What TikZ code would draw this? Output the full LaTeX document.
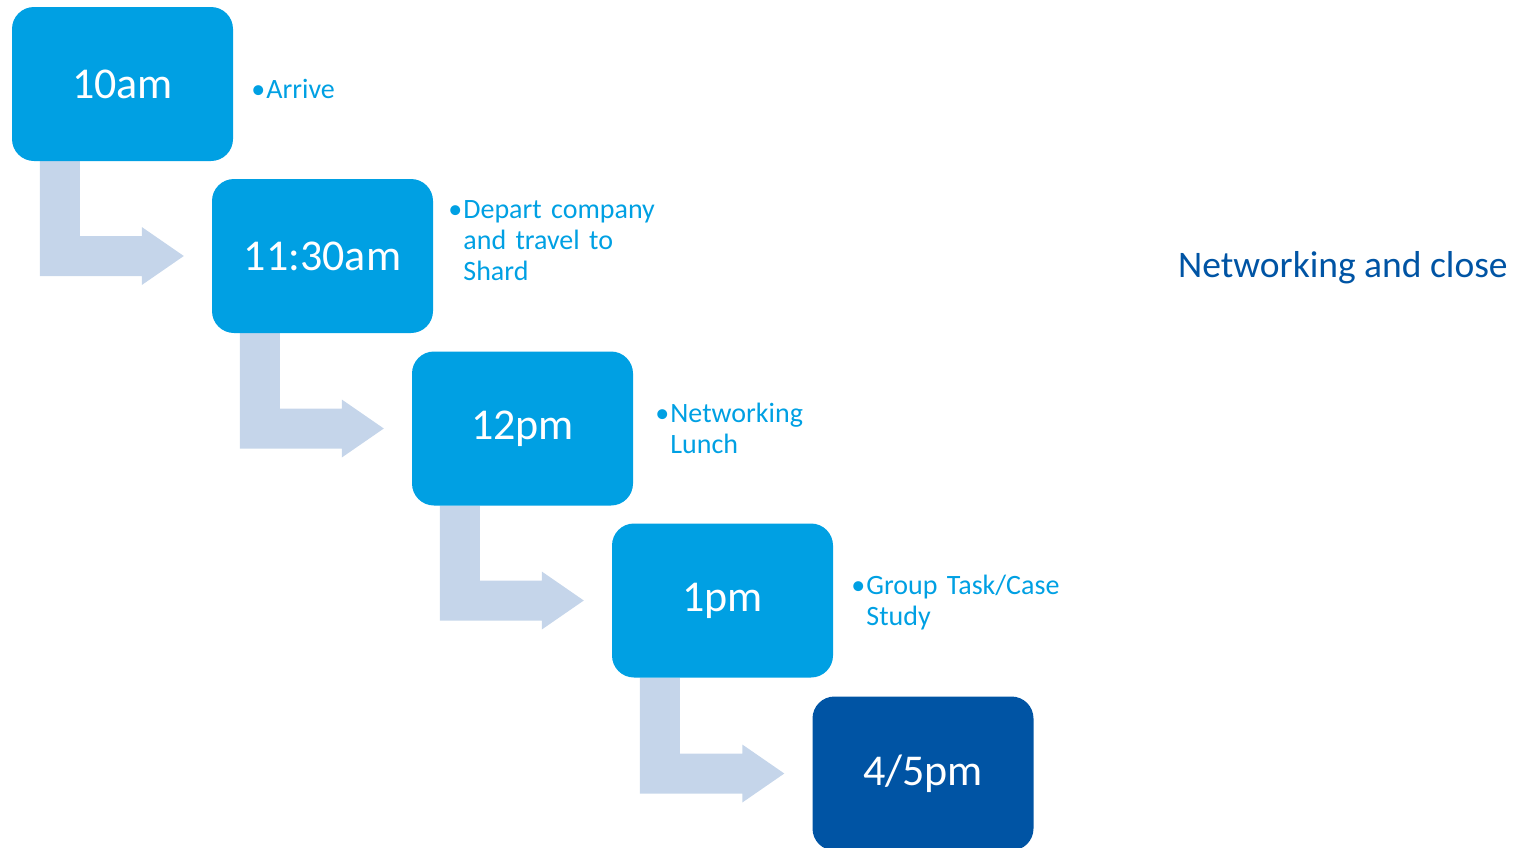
\documentclass[tikz,border=0pt]{standalone}
\usepackage{fontspec}
\setmainfont{Carlito}
\usetikzlibrary{calc, backgrounds}
\definecolor{sky}{RGB}{0, 160, 227}
\definecolor{navy}{RGB}{0, 84, 164}
\definecolor{pale}{RGB}{197, 213, 234}

\tikzset{
  slot/.style={fill=sky, text=white, rounded corners=22, minimum width=221,
               minimum height=154, inner sep=0, font=\fontsize{44}{50}\selectfont},
  note/.style={text=sky, anchor=base west, text width=260, align=left,
               inner sep=0, font=\fontsize{28}{31}\selectfont},
  elbow/.style={fill=pale}
}
\newcommand{\dotitem}{\llap{•\hspace{1pt}}}

\begin{document}
\begin{tikzpicture}[x=1pt, y=-1pt]

  \useasboundingbox (0, 0) rectangle (1519, 847);
  \clip (0, 0) rectangle (1519, 847);

  \node[slot] (t1) at (122.5, 84) {10am};
  \node[slot] (t2) at (322.5, 256) {11:30am};
  \node[slot] (t3) at (522.5, 428.5) {12pm};
  \node[slot] (t4) at (722.5, 600.5) {1pm};
  \node[slot, fill=navy] (t5) at (923, 773.5) {4/5pm};

  \node[note] (n1) at ($(t1.north east) + (33, 92)$) {\dotitem Arrive};
  \node[note] (n2) at ($(t2.north east) + (30, 40)$)
    {\dotitem Depart company\\and travel to\\Shard};
  \node[note] (n3) at ($(t3.north east) + (37, 71)$) {\dotitem Networking\\Lunch};
  \node[note] (n4) at ($(t4.north east) + (33, 71)$) {\dotitem Group Task/Case\\Study};

  \node[text=navy, anchor=base west, inner sep=0, font=\fontsize{37.5}{44}\selectfont]
    (close) at (1178, 277) {Networking and close};

  \begin{scope}[on background layer]
    \foreach \a/\b in {t1/t2, t2/t3, t3/t4, t4/t5} {
      \fill[elbow] let \p1 = (\a.south west), \p2 = (\b.west) in
           (\x1 + 28pt, \y1) -- (\x1 + 68pt, \y1) -- (\x1 + 68pt, \y2 + 20pt)
        -- (\x2 - 70pt, \y2 + 20pt) -- (\x2 - 70pt, \y2 + 29pt) -- (\x2 - 28pt, \y2)
        -- (\x2 - 70pt, \y2 - 29pt) -- (\x2 - 70pt, \y2 - 20pt)
        -- (\x1 + 28pt, \y2 - 20pt) -- cycle;
    }
  \end{scope}

\end{tikzpicture}
\end{document}
